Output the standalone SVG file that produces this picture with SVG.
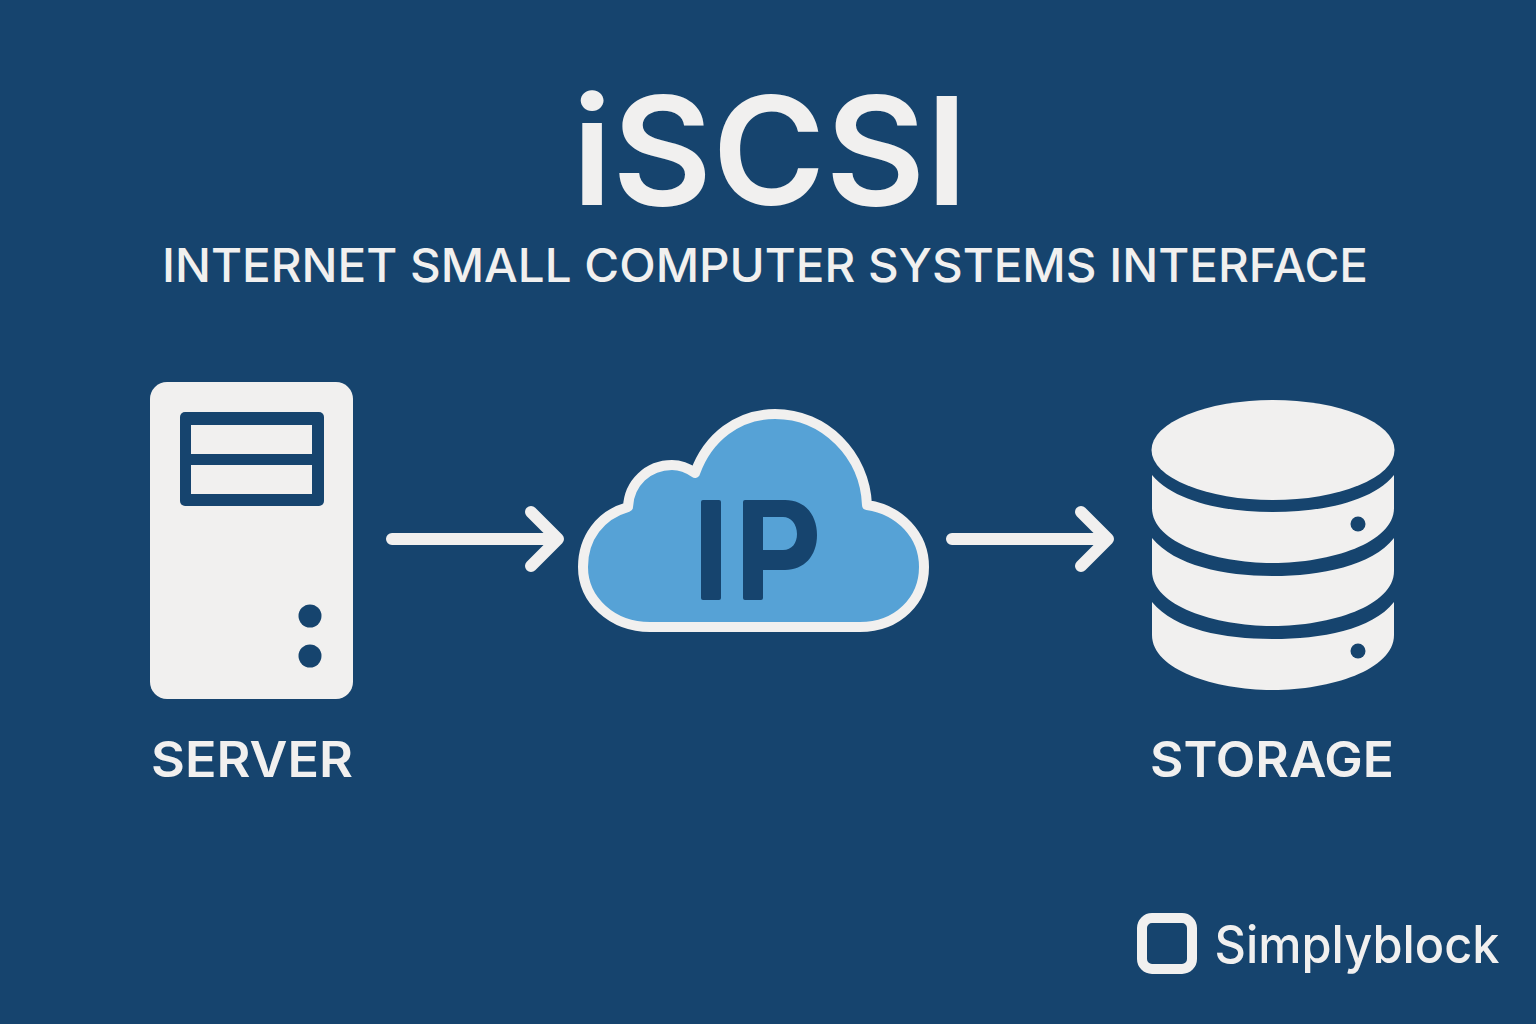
<svg xmlns="http://www.w3.org/2000/svg" width="1536" height="1024" viewBox="0 0 1536 1024">
<style>
text{font-family:Inter,"Liberation Sans",sans-serif;fill:#f1f0ef;text-anchor:middle}
.lbl{font-size:49px;font-weight:600}
.w{fill:#f1f0ef}
.b{fill:#16446e}
.c{fill:none;stroke:#f1f0ef;stroke-width:12;stroke-linecap:round;stroke-linejoin:round}
</style>
<rect width="1536" height="1024" fill="#16446e"/>
<g id="title">
<text x="770" y="205" font-size="150" font-weight="600" textLength="396" lengthAdjust="spacingAndGlyphs">iSCSI</text>
<text x="765" y="282" font-size="47" font-weight="520" textLength="1206" lengthAdjust="spacingAndGlyphs">INTERNET SMALL COMPUTER SYSTEMS INTERFACE</text>
</g>
<g id="server">
<rect class="w" x="150" y="382" width="203" height="317" rx="17"/>
<rect class="b" x="180" y="412" width="144" height="94" rx="5"/>
<rect class="w" x="191" y="425" width="121" height="29"/>
<rect class="w" x="191" y="465" width="121" height="29"/>
<circle class="b" cx="310" cy="616" r="11.500"/>
<circle class="b" cx="310" cy="656" r="11.500"/>
<text class="lbl" x="252" y="777" textLength="202" lengthAdjust="spacingAndGlyphs">SERVER</text>
</g>
<g id="cloud">
<path d="M628 507C629 483 648 465 672 465C680 465 688 468 695 473C708 437 738 414 775 414C825 414 865 455 867 505C900 510 924 535 924 567C924 600 898 627 860 627H650C612 627 583 600 583 567C583 538 600 515 628 507Z" fill="#56a2d6" stroke="#f1f0ef" stroke-width="10" stroke-linejoin="round"/>
<rect class="b" x="701" y="500" width="20" height="100" rx="2"/>
<path class="b" d="M745 500H785C806 500 817 516 817 535C817 556 804 570 785 570H763V598Q763 600 761 600H745Q743 600 743 598V502Q743 500 745 500ZM763 517V550H783C792 550 797 543 797 534C797 524 791 517 783 517Z" fill-rule="evenodd"/>
</g>
<g id="storage">
<ellipse class="w" cx="1273" cy="450" rx="121.500" ry="50"/>
<path class="w" d="M1152 475C1175 502 1225 512 1273 512C1321 512 1372 502 1394 475V508C1394 543 1330 563 1273 563C1216 563 1152 543 1152 508Z"/>
<path class="w" d="M1152 538C1175 566 1225 576 1273 576C1321 576 1372 566 1394 538V571C1394 606 1330 626 1273 626C1216 626 1152 606 1152 571Z"/>
<path class="w" d="M1152 602C1175 630 1225 639 1273 639C1321 639 1372 630 1394 602V635C1394 670 1330 690 1273 690C1216 690 1152 670 1152 635Z"/>
<circle class="b" cx="1358" cy="524" r="7.500"/>
<circle class="b" cx="1358" cy="651" r="7.500"/>
<text class="lbl" x="1272" y="777" textLength="244" lengthAdjust="spacingAndGlyphs">STORAGE</text>
</g>
<g id="connectors">
<path class="c" d="M392 539H557M531 512L558 539L531 566"/>
<path class="c" d="M952 539H1108M1081 512L1108 539L1081 566"/>
</g>
<g id="logo">
<rect x="1142" y="918" width="50" height="51" rx="10" fill="none" stroke="#f1f0ef" stroke-width="10"/>
<text x="1357" y="963" font-size="52" font-weight="500" textLength="285" lengthAdjust="spacingAndGlyphs">Simplyblock</text>
</g>
</svg>
